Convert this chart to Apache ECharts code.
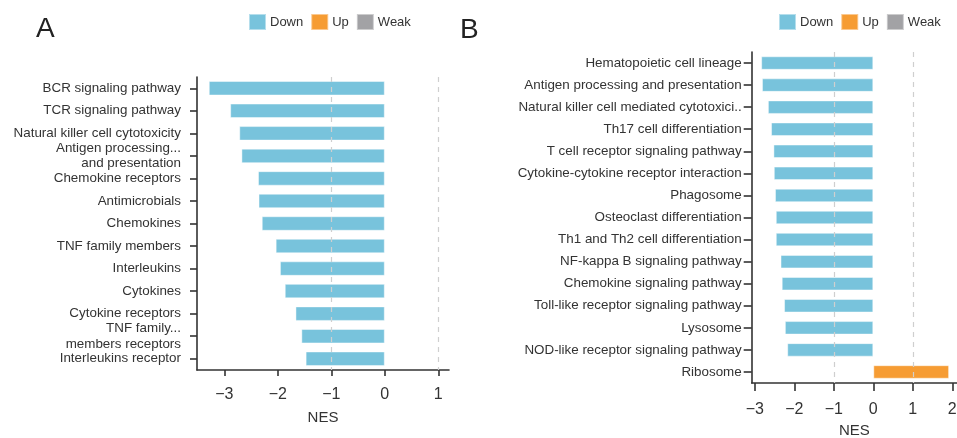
<!DOCTYPE html>
<html>
<head>
<meta charset="utf-8">
<script src="https://cdn.jsdelivr.net/npm/echarts@6/dist/echarts.min.js"></script>
<style>
  html, body { margin: 0; padding: 0; background: #fff; }
  #chart { width: 957px; height: 438px; }
</style>
</head>
<body>
<div id="chart"></div>
<script>
// Panel A: immune gene sets
const categoriesA = [
  'BCR signaling pathway',
  'TCR signaling pathway',
  'Natural killer cell cytotoxicity',
  'Antigen processing...\nand presentation',
  'Chemokine receptors',
  'Antimicrobials',
  'Chemokines',
  'TNF family members',
  'Interleukins',
  'Cytokines',
  'Cytokine receptors',
  'TNF family...\nmembers receptors',
  'Interleukins receptor'
];
const nesA = [-3.29, -2.89, -2.72, -2.68, -2.37, -2.36, -2.30, -2.04, -1.96, -1.87, -1.67, -1.56, -1.48];
const groupA = ['Down', 'Down', 'Down', 'Down', 'Down', 'Down', 'Down', 'Down', 'Down', 'Down', 'Down', 'Down', 'Down'];

// Panel B: KEGG pathways
const categoriesB = [
  'Hematopoietic cell lineage',
  'Antigen processing and presentation',
  'Natural killer cell mediated cytotoxici..',
  'Th17 cell differentiation',
  'T cell receptor signaling pathway',
  'Cytokine-cytokine receptor interaction',
  'Phagosome',
  'Osteoclast differentiation',
  'Th1 and Th2 cell differentiation',
  'NF-kappa B signaling pathway',
  'Chemokine signaling pathway',
  'Toll-like receptor signaling pathway',
  'Lysosome',
  'NOD-like receptor signaling pathway',
  'Ribosome'
];
const nesB = [-2.84, -2.82, -2.67, -2.59, -2.53, -2.52, -2.49, -2.47, -2.47, -2.35, -2.32, -2.26, -2.24, -2.18, 1.92];
const groupB = ['Down', 'Down', 'Down', 'Down', 'Down', 'Down', 'Down', 'Down', 'Down', 'Down', 'Down', 'Down', 'Down', 'Down', 'Up'];

const tickValuesA = [-3, -2, -1, 0, 1];
const tickValuesB = [-3, -2, -1, 0, 1, 2];
const refLines = [-1, 1];

const groups = ['Down', 'Up', 'Weak'];
const colors = { Down: '#78c3dc', Up: '#f69c33', Weak: '#a2a2a5' };

const FONT = '"Liberation Sans", Arial, sans-serif';
const TEXT = '#333';

function fmtNum(v) {
  return v < 0 ? '\u2212' + Math.abs(v) : String(v);
}

function xAxisFor(gridIndex, min, max, ticks, tickLen, labelMargin, nameGap) {
  return {
    type: 'value', gridIndex, min, max,
    name: 'NES', nameLocation: 'middle', nameGap,
    nameTextStyle: { fontFamily: FONT, fontSize: 15, color: TEXT },
    axisLine: { show: true, onZero: false, lineStyle: { color: '#333', width: 1.6 } },
    axisTick: { show: true, customValues: ticks, length: tickLen, lineStyle: { color: '#333', width: 1.6 } },
    axisLabel: { customValues: ticks, formatter: fmtNum, margin: labelMargin, fontFamily: FONT, fontSize: 16, color: TEXT },
    splitLine: { show: false }
  };
}

function yAxisFor(gridIndex, cats, tickLen, labelMargin) {
  return {
    type: 'category', gridIndex, data: cats, inverse: true,
    axisLine: { show: true, onZero: false, lineStyle: { color: '#333', width: 1.6 } },
    axisTick: { show: true, alignWithLabel: true, length: tickLen, lineStyle: { color: '#333', width: 1.6 } },
    axisLabel: { margin: labelMargin, fontFamily: FONT, fontSize: 13.4, color: TEXT, lineHeight: 15.5, interval: 0 },
    splitLine: { show: false }
  };
}

function seriesFor(axisIndex, values, grp, barWidth) {
  return groups.map((g, i) => {
    const s = {
      name: g, type: 'bar', stack: 'panel' + axisIndex,
      xAxisIndex: axisIndex, yAxisIndex: axisIndex,
      barWidth,
      itemStyle: { color: colors[g], borderColor: 'rgba(255,255,255,0.45)', borderWidth: 1 },
      data: values.map((v, k) => (grp[k] === g ? v : '-')),
      silent: true
    };
    if (i === 0) {
      s.markLine = {
        silent: true, symbol: 'none', label: { show: false },
        lineStyle: { type: [5, 5], color: '#cfcfcf', width: 1.2 },
        data: refLines.map(x => ({ xAxis: x }))
      };
    }
    return s;
  });
}

function legendFor(left) {
  return {
    data: groups, left, top: 13, orient: 'horizontal', padding: 0,
    icon: 'rect', itemWidth: 17, itemHeight: 16, itemGap: 7,
    textStyle: { fontFamily: FONT, fontSize: 13, color: TEXT, padding: [0, 0, 0, -1] },
    selectedMode: false
  };
}

const chart = echarts.init(document.getElementById('chart'), null, { renderer: 'canvas' });
chart.setOption({
  backgroundColor: '#fff',
  animation: false,
  legend: [legendFor(248), legendFor(778)],
  graphic: [
    { type: 'text', left: 36, top: 15, style: { text: 'A', font: '28px ' + FONT, fill: '#222' } },
    { type: 'text', left: 460, top: 16, style: { text: 'B', font: '28px ' + FONT, fill: '#222' } }
  ],
  grid: [
    { left: 197, top: 77, width: 252, height: 293, outerBoundsMode: 'none', containLabel: false },
    { left: 751.7, top: 52, width: 205.3, height: 331, outerBoundsMode: 'none', containLabel: false }
  ],
  xAxis: [
    xAxisFor(0, -3.51, 1.2, tickValuesA, 6, 17, 40),
    xAxisFor(1, -3.08, 2.12, tickValuesB, 8, 19, 40.5)
  ],
  yAxis: [
    yAxisFor(0, categoriesA, 7, 16),
    yAxisFor(1, categoriesB, 8, 10)
  ],
  series: [
    ...seriesFor(0, nesA, groupA, 14.5),
    ...seriesFor(1, nesB, groupB, 13.5)
  ]
});
</script>
</body>
</html>
